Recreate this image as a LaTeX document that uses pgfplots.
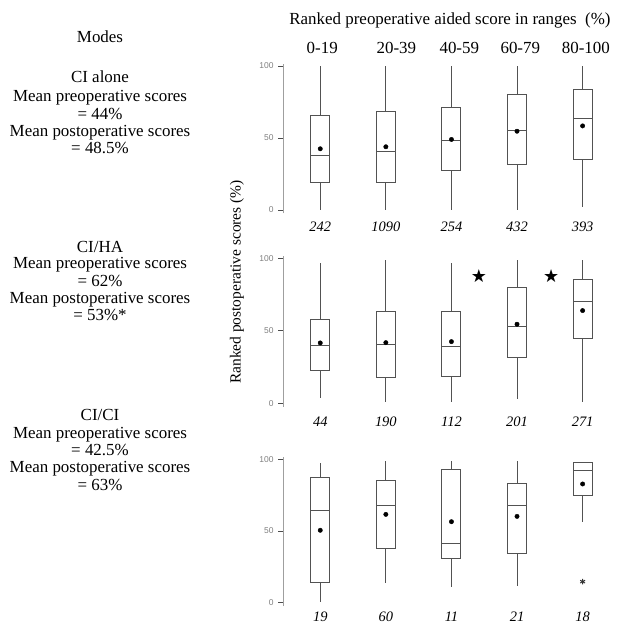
\documentclass[border=0pt]{standalone}
\usepackage{fontspec}
\setmainfont{Liberation Serif}
\newfontfamily\tickfont{Liberation Sans}
\newfontfamily\starfont{DejaVu Sans}
\usepackage{pgfplots}
\usepackage{pgfplotstable}
\pgfplotsset{compat=1.18}
\usepgfplotslibrary{statistics}

% pos lw lq med uq uw mean
\pgfplotstableread{
pos lw lq med uq uw mean
1 0 19.4 37.6 65.6 100 42.5
2 0 19.4 40.9 68.1 100 43.9
3 0 27.5 48.3 70.9 100 49.0
4 0 31.9 55.2 80.1 100 54.7
5 1.8 35.3 63.3 83.6 100 58.4
}\tblA
\pgfplotstableread{
pos lw lq med uq uw mean
1 3.9 22.5 40.0 57.5 96.6 41.6
2 0.7 17.9 40.5 63.2 98.9 41.8
3 1.1 18.4 39.1 63.2 96.6 42.5
4 3.2 31.7 53.1 79.8 98.9 54.5
5 1.1 44.4 70.1 85.5 98.9 63.9
}\tblB
\pgfplotstableread{
pos lw lq med uq uw mean
1 0.7 14.2 64.2 87.2 97.7 50.5
2 13.5 37.9 68.1 85.3 99.1 61.6
3 10.7 30.9 41.6 93.0 99.1 56.5
4 11.9 34.2 67.7 82.8 99.1 60.2
5 56.0 74.7 92.3 97.7 98.4 82.8
}\tblC

\newcommand{\bx}[3]{%
  \pgfplotstablegetelem{#2}{lw}\of#1\let\vlw\pgfplotsretval
  \pgfplotstablegetelem{#2}{lq}\of#1\let\vlq\pgfplotsretval
  \pgfplotstablegetelem{#2}{med}\of#1\let\vmed\pgfplotsretval
  \pgfplotstablegetelem{#2}{uq}\of#1\let\vuq\pgfplotsretval
  \pgfplotstablegetelem{#2}{uw}\of#1\let\vuw\pgfplotsretval
  \edef\tmpbx{\noexpand\addplot[draw=black!68, fill=white, line width=0.95pt,
    boxplot prepared={draw position=#3, lower whisker=\vlw, lower quartile=\vlq,
      median=\vmed, upper quartile=\vuq, upper whisker=\vuw,
      box extend=0.29, whisker extend=0},
    boxplot/draw direction=y] coordinates {};}%
  \tmpbx}

\pgfplotsset{
  panel/.style={
    scale only axis, width=332.4bp, height=149.6bp,
    xmin=0.432, xmax=5.5, ymin=-2.3, ymax=101.6,
    axis y line*=left,
    ytick={0,50,100},
    y axis line style={draw=gray!75, line width=0.9pt, -},
    tick align=outside, major tick length=5bp,
    ytick style={draw=black!70, line width=0.9pt},
    yticklabel style={font=\tickfont\fontsize{8.5}{9}\selectfont, text=gray, xshift=-1bp},
    /pgf/number format/assume math mode=true,
    clip=false,
  },
}
\tikzset{nlab/.style={font=\fontsize{14.5}{15}\selectfont\itshape}}

\begin{document}
\begin{tikzpicture}[x=1bp,y=1bp]
\useasboundingbox (0,0) rectangle (618,-626);

% header
\node[anchor=base, font=\fontsize{17}{17}\selectfont] at (450,-25)
  {Ranked preoperative aided score in ranges\ \ (\%)};

% y label
\node[rotate=90, font=\fontsize{15.5}{16}\selectfont] at (237,-282)
  {Ranked postoperative scores (\%)};

% left texts
\begin{scope}[every node/.style={anchor=base, font=\fontsize{17}{17}\selectfont}]
\node at (100,-42.5) {Modes};
\node at (100,-82.8) {CI alone};
\node at (100,-101.5) {Mean preoperative scores};
\node at (100,-119.8) {= 44\%};
\node at (100,-136.2) {Mean postoperative scores};
\node at (100,-153.2) {= 48.5\%};
\node at (100,-252.2) {CI/HA};
\node at (100,-268.8) {Mean preoperative scores};
\node at (100,-286.5) {= 62\%};
\node at (100,-303.8) {Mean postoperative scores};
\node at (100,-320.5) {= 53\%*};
\node at (100,-420.5) {CI/CI};
\node at (100,-438.2) {Mean preoperative scores};
\node at (100,-455.5) {= 42.5\%};
\node at (100,-472.8) {Mean postoperative scores};
\node at (100,-490.5) {= 63\%};
\end{scope}

% ---------- panel 1 ----------
\begin{axis}[panel, at={(283bp,-213.3bp)}, anchor=south west,
  axis x line*=top, x axis line style={draw=none},
  xtick={1.03,2.16,3.12,4.05,5.05},
  xticklabels={0-19,20-39,40-59,60-79,80-100},
  xtick style={draw=none},
  xticklabel style={font=\fontsize{17}{17}\selectfont, anchor=base, yshift=4.7bp},
]
\bx{\tblA}{0}{1}
\bx{\tblA}{1}{2}
\bx{\tblA}{2}{3}
\bx{\tblA}{3}{4}
\bx{\tblA}{4}{5}
\addplot[only marks, mark=*, mark size=2.2bp, black] table[x=pos,y=mean]{\tblA};
\node[nlab] at (axis cs:1,-11.8) {242};
\node[nlab] at (axis cs:2,-11.8) {1090};
\node[nlab] at (axis cs:3,-11.8) {254};
\node[nlab] at (axis cs:4,-11.8) {432};
\node[nlab] at (axis cs:5,-11.8) {393};
\end{axis}

% ---------- panel 2 ----------
\begin{axis}[panel, at={(283bp,-406.6bp)}, anchor=south west, height=150.7bp,
  axis x line=none]
\bx{\tblB}{0}{1}
\bx{\tblB}{1}{2}
\bx{\tblB}{2}{3}
\bx{\tblB}{3}{4}
\bx{\tblB}{4}{5}
\addplot[only marks, mark=*, mark size=2.2bp, black] table[x=pos,y=mean]{\tblB};
\addplot[only marks, black, mark=text,
  text mark={\starfont\fontsize{18}{18}\selectfont ★}]
  coordinates {(3.42,88) (4.52,88)};
\node[nlab] at (axis cs:1,-12.9) {44};
\node[nlab] at (axis cs:2,-12.9) {190};
\node[nlab] at (axis cs:3,-12.9) {112};
\node[nlab] at (axis cs:4,-12.9) {201};
\node[nlab] at (axis cs:5,-12.9) {271};
\end{axis}

% ---------- panel 3 ----------
\begin{axis}[panel, at={(283bp,-606bp)}, anchor=south west, height=149bp,
  axis x line=none]
\bx{\tblC}{0}{1}
\bx{\tblC}{1}{2}
\bx{\tblC}{2}{3}
\bx{\tblC}{3}{4}
\bx{\tblC}{4}{5}
\addplot[only marks, mark=*, mark size=2.2bp, black] table[x=pos,y=mean]{\tblC};
\addplot[only marks, mark=asterisk, mark size=2.8bp, black!80, line width=1pt]
  coordinates {(5,14.7)};
\node[nlab] at (axis cs:1,-10) {19};
\node[nlab] at (axis cs:2,-10) {60};
\node[nlab] at (axis cs:3,-10) {11};
\node[nlab] at (axis cs:4,-10) {21};
\node[nlab] at (axis cs:5,-10) {18};
\end{axis}
\end{tikzpicture}
\end{document}
